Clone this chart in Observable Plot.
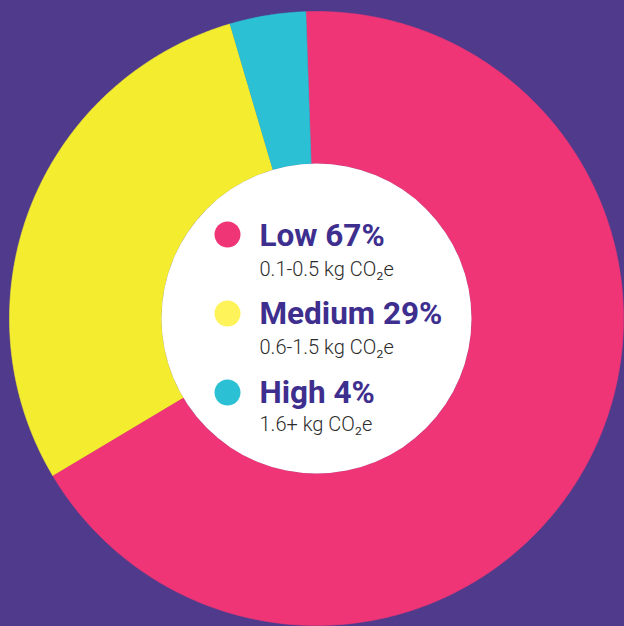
<!DOCTYPE html>
<html><head><meta charset="utf-8">
<script src="https://cdn.jsdelivr.net/npm/d3@7"></script>
<script src="https://cdn.jsdelivr.net/npm/@observablehq/plot@0.6"></script>
<style>
html,body{margin:0;padding:0;overflow:hidden;background:#4f3a8c}
#chart svg{display:block;background:linear-gradient(90deg,#4a3a8b,#543a8e)}
</style>
</head><body><div id="chart"></div>
<script>
const categories = ["Low", "Medium", "High"];
const shares = [67, 29, 4];
const ranges = ["0.1-0.5 kg CO₂e", "0.6-1.5 kg CO₂e", "1.6+ kg CO₂e"];
const sliceColors = ["#ef3575", "#f4ec2f", "#2cc0d4"];
const dotColors = ["#ef3575", "#fff35a", "#2cc0d4"];

const W = 624, H = 626, CX = 316, CY = 318, R = 307, RIN = 155;
const startDeg = -2;
const data = categories.map((c, i) => ({category: c, share: shares[i], range: ranges[i], label: `${c} ${shares[i]}%`}));
const pie = d3.pie().sort(null).value(d => d.share)
  .startAngle(startDeg * Math.PI / 180).endAngle((360 + startDeg) * Math.PI / 180);
const arcs = pie(data);
const rin = RIN / R;
const pts = [];
for (const a of arcs) {
  const n = Math.max(8, Math.ceil((a.endAngle - a.startAngle) * 180 / Math.PI * 2));
  for (let k = 0; k <= n; k++) {
    const t = a.startAngle + (a.endAngle - a.startAngle) * k / n;
    pts.push({category: a.data.category, x: Math.sin(t), y: Math.cos(t)});
  }
  for (let k = n; k >= 0; k--) {
    const t = a.startAngle + (a.endAngle - a.startAngle) * k / n;
    pts.push({category: a.data.category, x: rin * Math.sin(t), y: rin * Math.cos(t)});
  }
}
const px2x = p => (p - CX) / R;
const py2y = p => (CY - p) / R;
const dotX = px2x(227), textX = px2x(259);
const dotY = [234, 313, 392].map(py2y);
const headY = [245, 323, 402].map(py2y);
const subY = [275, 353, 430].map(py2y);

const plot = Plot.plot({
  width: W, height: H, margin: 0,
  x: {domain: [-1, 1], range: [CX - R, CX + R], axis: null},
  y: {domain: [-1, 1], range: [CY + R, CY - R], axis: null},
  color: {domain: categories, range: sliceColors},
  r: {type: "identity"},
  style: {background: "transparent", overflow: "visible"},
  marks: [
    Plot.line(pts, {x: "x", y: "y", z: "category", fill: "category", stroke: "category", strokeWidth: 0.6, curve: "linear"}),
    Plot.dot([0], {x: () => 0, y: () => 0, r: RIN, fill: "white", stroke: "none"}),
    Plot.dot(data, {x: () => dotX, y: (d, i) => dotY[i], r: 13, fill: (d, i) => dotColors[i], stroke: "none"}),
    Plot.text(data, {x: () => textX, y: (d, i) => headY[i], text: "label", textAnchor: "start", lineAnchor: "bottom",
      fontFamily: "Roboto", fontWeight: "bold", fontSize: 31.5, fill: "#3e2f8f"}),
    Plot.text(data, {x: () => textX, y: (d, i) => subY[i], text: "range", textAnchor: "start", lineAnchor: "bottom",
      fontFamily: "Roboto", fontWeight: 300, fontSize: 20, fill: "#2b2b2b"})
  ]
});
document.getElementById("chart").appendChild(plot);
</script>
</body></html>
